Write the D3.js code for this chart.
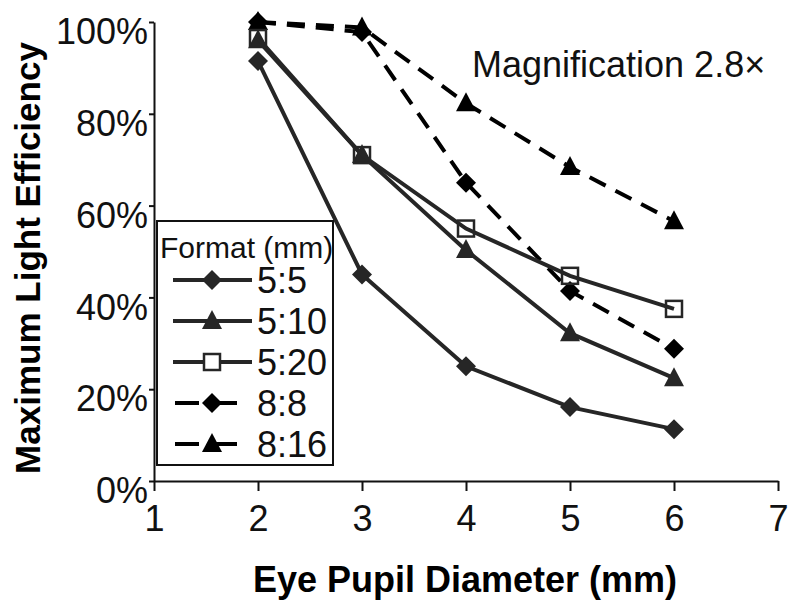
<!DOCTYPE html>
<html>
<head>
<meta charset="utf-8">
<script src="https://cdn.jsdelivr.net/npm/d3@7"></script>
<style>
  body { margin: 0; background: #fff; }
  svg { font-family: "Liberation Sans", Arial, sans-serif; }
</style>
</head>
<body>
<div id="chart"></div>
<script>
const pupil = [2, 3, 4, 5, 6];
const xTicks = [1, 2, 3, 4, 5, 6, 7];
const yTicks = [0, 0.2, 0.4, 0.6, 0.8, 1.0];

const format55 = [0.915, 0.45, 0.25, 0.161, 0.113];
const format510 = [0.96, 0.71, 0.503, 0.322, 0.224];
const format520 = [0.965, 0.71, 0.55, 0.447, 0.375];
const format88 = [1.0, 0.978, 0.65, 0.414, 0.288];
const format816 = [1.0, 0.988, 0.823, 0.684, 0.566];

const seriesNames = ["5:5", "5:10", "5:20", "8:8", "8:16"];
const seriesValues = [format55, format510, format520, format88, format816];
const seriesMarker = ["diamond", "triangle", "square", "diamond", "triangle"];
const seriesDashed = [false, false, false, true, true];

function drawChart() {
    const width = 800, height = 608;

    const svg = d3.select("#chart").append("svg")
        .attr("width", width)
        .attr("height", height);

    const x = d3.scaleLinear().domain([1, 7]).range([154, 778]);
    const y = d3.scaleLinear().domain([0, 1]).range([481, 22]);

    // axes
    const xAxis = svg.append("g")
        .attr("transform", `translate(0,${y(0)})`)
        .call(d3.axisBottom(x).tickValues(xTicks).tickFormat(d3.format("d"))
            .tickSize(10).tickSizeOuter(0).tickPadding(14));

    const yAxis = svg.append("g")
        .attr("transform", `translate(${x(1)},0)`)
        .call(d3.axisLeft(y).tickValues(yTicks).tickFormat(d3.format(".0%"))
            .tickSize(5).tickSizeOuter(0).tickPadding(1));

    [xAxis, yAxis].forEach(a => {
        a.select(".domain").attr("stroke", "#111").attr("stroke-width", 2);
        a.selectAll(".tick line").attr("stroke", "#111").attr("stroke-width", 2);
        a.selectAll("text").attr("fill", "#111").style("font-size", "36px");
    });
    yAxis.selectAll("text").attr("dy", "0.6em");

    svg.append("text")
        .attr("x", (x(1) + x(7)) / 2 - 1)
        .attr("y", 592)
        .attr("text-anchor", "middle")
        .style("font-size", "36px")
        .style("font-weight", "bold")
        .text("Eye Pupil Diameter (mm)");

    svg.append("text")
        .attr("transform", "translate(40,258) rotate(-90)")
        .attr("text-anchor", "middle")
        .style("font-size", "35px")
        .style("font-weight", "bold")
        .text("Maximum Light Efficiency");

    svg.append("text")
        .attr("x", 472)
        .attr("y", 77)
        .style("font-size", "36px")
        .attr("fill", "#111")
        .text("Magnification 2.8×");

    const line = d3.line()
        .x((d, i) => x(pupil[i]))
        .y(d => y(d));

    function marker(g, type, cx, cy, color) {
        if (type === "diamond") {
            g.append("path")
                .attr("d", `M${cx},${cy - 10}L${cx + 10},${cy}L${cx},${cy + 10}L${cx - 10},${cy}Z`)
                .attr("fill", color);
        } else if (type === "triangle") {
            g.append("path")
                .attr("d", `M${cx},${cy - 11}L${cx + 10},${cy + 8}L${cx - 10},${cy + 8}Z`)
                .attr("fill", color);
        } else {
            g.append("rect")
                .attr("x", cx - 8).attr("y", cy - 8)
                .attr("width", 16).attr("height", 16)
                .attr("fill", "none")
                .attr("stroke", color)
                .attr("stroke-width", 2.5);
        }
    }

    // dashed series first so the solid ones sit on top
    const order = [3, 4, 0, 1, 2];
    order.forEach(k => {
        const color = seriesDashed[k] ? "#000" : "#262626";
        svg.append("path")
            .datum(seriesValues[k])
            .attr("d", line)
            .attr("fill", "none")
            .attr("stroke", color)
            .attr("stroke-width", 4)
            .attr("stroke-dasharray", seriesDashed[k] ? "18,11" : null);
        const g = svg.append("g");
        seriesValues[k].forEach((v, i) => marker(g, seriesMarker[k], x(pupil[i]), y(v), color));
    });

    // legend
    const legend = svg.append("g");
    legend.append("rect")
        .attr("x", 157).attr("y", 221)
        .attr("width", 176).attr("height", 244)
        .attr("fill", "#fff")
        .attr("stroke", "#111")
        .attr("stroke-width", 2);

    legend.append("text")
        .attr("x", 160).attr("y", 258)
        .style("font-size", "30px")
        .attr("fill", "#111")
        .text("Format (mm)");

    seriesNames.forEach((name, k) => {
        const ry = 280 + k * 41;
        const color = seriesDashed[k] ? "#000" : "#262626";
        if (seriesDashed[k]) {
            legend.append("line")
                .attr("x1", 175).attr("x2", 237)
                .attr("y1", ry).attr("y2", ry)
                .attr("stroke", color).attr("stroke-width", 4)
                .attr("stroke-dasharray", "24,14");
        } else {
            legend.append("line")
                .attr("x1", 173).attr("x2", 252)
                .attr("y1", ry).attr("y2", ry)
                .attr("stroke", color).attr("stroke-width", 4);
        }
        if (seriesMarker[k] === "square") {
            legend.append("rect")
                .attr("x", 204).attr("y", ry - 8)
                .attr("width", 16).attr("height", 16)
                .attr("fill", "#fff")
                .attr("stroke", color)
                .attr("stroke-width", 2.5);
        } else {
            marker(legend, seriesMarker[k], 212, ry, color);
        }
        legend.append("text")
            .attr("x", 257).attr("y", ry)
            .attr("dy", "0.36em")
            .style("font-size", "36px")
            .attr("fill", "#111")
            .text(name);
    });
}

drawChart();
</script>
</body>
</html>
